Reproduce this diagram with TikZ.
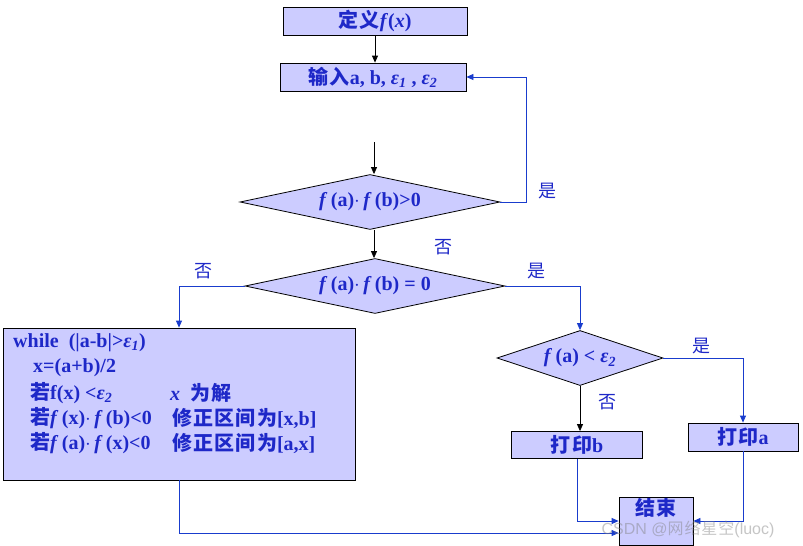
\documentclass[tikz,border=0pt]{standalone}
\usepackage{fontspec}
\setmainfont{Liberation Serif}
\newfontfamily\cjk{Noto Sans CJK SC}[LetterSpace=6]
\newfontfamily\wmfont{Liberation Sans}
\usetikzlibrary{shapes.geometric,arrows.meta}
\definecolor{boxfill}{RGB}{204,204,255}
\definecolor{txtblue}{RGB}{30,40,200}
\definecolor{lineblue}{RGB}{25,60,205}
\newcommand{\zh}[1]{{\cjk #1}}
\newcommand{\fit}{\textit{f}\,}
\newcommand{\epsi}[1]{\textit{ε\textsubscript{#1}}}
\tikzset{
  proc/.style={draw=black, fill=boxfill, text=txtblue, line width=0.8pt,
    font=\bfseries\fontsize{20}{23}\selectfont, inner sep=0pt},
  dec/.style={diamond, draw=black, fill=boxfill, text=txtblue, line width=0.8pt,
    font=\bfseries\fontsize{20}{23}\selectfont, inner sep=0pt},
  lbl/.style={text=txtblue, font=\cjk\fontsize{18}{20}\selectfont, inner sep=0pt},
  wtxt/.style={text=txtblue, font=\bfseries\fontsize{20}{23}\selectfont, inner sep=0pt, anchor=west},
  barrow/.style={draw=black, line width=0.8pt, -{Triangle[length=7pt,width=6pt]}},
  blarrow/.style={draw=lineblue, line width=0.8pt, -{Triangle[length=7pt,width=6pt]}},
}
\begin{document}
\begin{tikzpicture}[x=1pt,y=-1pt]
\useasboundingbox[fill=white] (0,0) rectangle (803,546);
% boxes
\node[proc, minimum width=184pt, minimum height=28pt] (n1) at (375,21) {\zh{定义}\textit{f}(\textit{x})};
\node[proc, minimum width=186pt, minimum height=28pt] (n2) at (373,77) {\zh{输入}a, b, \epsi{1} , \epsi{2}};
\coordinate (c0) at (374,142);
\node[dec, minimum width=260pt, minimum height=55pt, aspect=4.7] (d1) at (370,202) {\fit(a)$\cdot$\,\fit(b)>0};
\node[dec, minimum width=260pt, minimum height=55pt, aspect=4.7] (d2) at (375,286) {\fit(a)$\cdot$\,\fit(b) = 0};
\node[proc, minimum width=352pt, minimum height=152pt] (wb) at (179,404) {};
\node[dec, minimum width=166pt, minimum height=55pt, aspect=3] (d3) at (580,358) {\fit(a) < \epsi{2}};
\node[proc, minimum width=131pt, minimum height=27pt] (pb) at (577,445) {\zh{打印}b};
\node[proc, minimum width=110pt, minimum height=28pt] (pa) at (743,437) {\zh{打印}a};
\node[proc, minimum width=74pt, minimum height=48pt] (end) at (656,521) {};
\node[text=txtblue, font=\bfseries\fontsize{20}{23}\selectfont, inner sep=0pt] (endt) at (656,508) {\zh{结束}};
% while box text
\node[wtxt] (w1) at (13,343) {while\ \ (|a-b|>\epsi{1})};
\node[wtxt] (w2) at (33,368) {x=(a+b)/2};
\node[wtxt] (w3) at (30,393) {\zh{若}f(x) <\epsi{2}};
\node[wtxt] (w3b) at (170,393) {\textit{x}\ \ \zh{为解}};
\node[wtxt] (w4) at (30,418) {\zh{若}\fit(x)$\cdot$\,\fit(b)<0};
\node[wtxt] (w4b) at (172,418) {\zh{修正区间为}[x,b]};
\node[wtxt] (w5) at (30,443) {\zh{若}\fit(a)$\cdot$\,\fit(x)<0};
\node[wtxt] (w5b) at (172,443) {\zh{修正区间为}[a,x]};
% labels
\node[lbl] (l1) at (547,191) {是};
\node[lbl] (l2) at (443,247) {否};
\node[lbl] (l3) at (203,271) {否};
\node[lbl] (l4) at (536,271) {是};
\node[lbl] (l5) at (701,346) {是};
\node[lbl] (l6) at (607,402) {否};
% connectors
\draw[barrow] (n1.south) -- (n1.south |- n2.north);
\draw[barrow] (c0) -- (c0 |- d1.north);
\draw[blarrow] (d1.east) -- ++(26,0) |- (n2.east);
\draw[barrow] (d1.south -| c0) -- (c0 |- d2.north);
\draw[blarrow] (d2.west) -| (wb.north);
\draw[blarrow] (d2.east) -| (d3.north);
\draw[blarrow] (d3.east) -| (pa.north);
\draw[barrow] (d3.south) -- (d3.south |- pb.north);
\draw[blarrow] (pb.south) |- (end.west);
\draw[blarrow] (pa.south) |- (end.east);
\draw[blarrow] (wb.south) |- ([yshift=-12pt]end.west);
% watermark
\node[text=gray, opacity=0.45, font=\wmfont\fontsize{16}{18}\selectfont, inner sep=0pt] (wm) at (688,529) {CSDN @\zh{网络星空}(luoc)};
\end{tikzpicture}
\end{document}
